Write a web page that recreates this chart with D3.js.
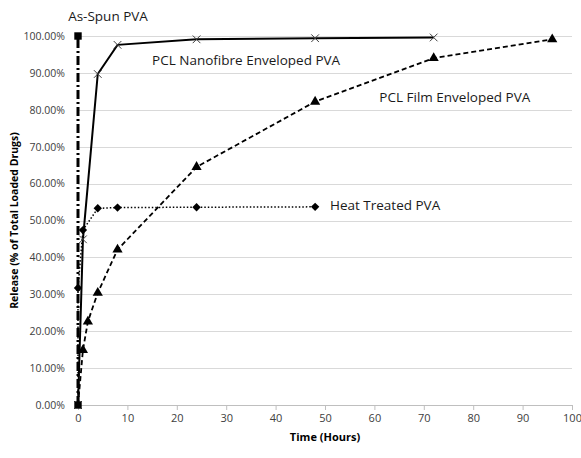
<!DOCTYPE html>
<html>
<head>
<meta charset="utf-8">
<script src="https://cdn.jsdelivr.net/npm/d3@7"></script>
<style>
  body { margin: 0; background: #fff; }
  svg text { font-family: "Open Sans", Lato, sans-serif; fill: #404040; }
</style>
</head>
<body>
<div id="chart-area"></div>
<script>
const xTicks = [0, 10, 20, 30, 40, 50, 60, 70, 80, 90, 100];
const yTicks = [0, 10, 20, 30, 40, 50, 60, 70, 80, 90, 100];

const asSpunTime = [0, 0];
const asSpunRelease = [0, 100];

const nanofibreTime = [0, 1, 4, 8, 24, 48, 72];
const nanofibreRelease = [0, 44.9, 89.7, 97.6, 99.1, 99.4, 99.6];

const filmTime = [0, 1, 2, 4, 8, 24, 48, 72, 96];
const filmRelease = [0, 14.9, 22.6, 30.4, 42.1, 64.5, 82.2, 94.0, 99.1];

const heatTime = [0, 0, 1, 4, 8, 24, 48];
const heatRelease = [0, 31.7, 47.4, 53.3, 53.5, 53.6, 53.7];

const seriesLabels = [
  { text: "As-Spun PVA", x: -2, y: 104 },
  { text: "PCL Nanofibre Enveloped PVA", x: 15, y: 92.2 },
  { text: "PCL Film Enveloped PVA", x: 61, y: 82.2 },
  { text: "Heat Treated PVA", x: 51, y: 52.8 }
];

const zip = (xs, ys) => xs.map((t, i) => ({ t, v: ys[i] }));

const chartSize = { width: 581, height: 458 };
const margin = { left: 78, right: 9, top: 36, bottom: 53 };
const width = chartSize.width - margin.left - margin.right;
const height = chartSize.height - margin.top - margin.bottom;

const x = d3.scaleLinear().domain([0, 100]).range([0, width]);
const y = d3.scaleLinear().domain([0, 100]).range([height, 0]);

const svg = d3
  .select("#chart-area")
  .append("svg")
  .attr("width", chartSize.width)
  .attr("height", chartSize.height);

const g = svg
  .append("g")
  .attr("transform", `translate(${margin.left},${margin.top})`);

// gridlines
g.selectAll(".grid")
  .data(yTicks.filter(d => d > 0))
  .enter()
  .append("line")
  .attr("x1", 0)
  .attr("x2", width)
  .attr("y1", d => Math.round(y(d)) + 0.5)
  .attr("y2", d => Math.round(y(d)) + 0.5)
  .attr("stroke", "#d9d9d9")
  .attr("stroke-width", 1);

const yAxis = d3
  .axisLeft(y)
  .tickValues(yTicks)
  .tickSize(0)
  .tickPadding(13)
  .tickFormat(d => d.toFixed(2) + "%");

const xAxis = d3
  .axisBottom(x)
  .tickValues(xTicks)
  .tickSize(5)
  .tickSizeOuter(0)
  .tickPadding(4);

const ya = g.append("g").call(yAxis);
ya.select(".domain").remove();
ya.selectAll("text").style("font-size", "10.5px");

const xa = g
  .append("g")
  .attr("transform", `translate(0,${height})`)
  .call(xAxis);
xa.selectAll("line, path").attr("stroke", "#bfbfbf");
xa.selectAll("text").style("font-size", "11px");

g.append("text")
  .attr("x", width / 2)
  .attr("y", height + 36)
  .attr("text-anchor", "middle")
  .style("font-size", "11px")
  .style("font-weight", "bold")
  .style("fill", "#000")
  .text("Time (Hours)");

g.append("text")
  .attr("transform", "rotate(-90)")
  .attr("x", -height / 2)
  .attr("y", -60)
  .attr("text-anchor", "middle")
  .style("font-size", "10.5px")
  .style("font-weight", "bold")
  .style("fill", "#000")
  .text("Release (% of Total Loaded Drugs)");

const line = d3
  .line()
  .x(d => x(d.t))
  .y(d => y(d.v));

const series = [
  { data: zip(filmTime, filmRelease), dash: "5,3", w: 1.8, marker: "triangle" },
  { data: zip(heatTime, heatRelease), dash: "1.5,2", w: 1.5, marker: "diamond" },
  { data: zip(nanofibreTime, nanofibreRelease), dash: null, w: 2, marker: "x" },
  { data: zip(asSpunTime, asSpunRelease), dash: "9,3,2,3", w: 3, marker: "square" }
];

series.forEach(s => {
  g.append("path")
    .datum(s.data)
    .attr("d", line)
    .attr("fill", "none")
    .attr("stroke", "#000")
    .attr("stroke-width", s.w)
    .attr("stroke-dasharray", s.dash);

  const pts = s.marker === "diamond" || s.marker === "triangle"
    ? s.data.filter(d => d.v > 0)
    : s.data;
  const m = g.selectAll(null).data(pts).enter();

  if (s.marker === "x") {
    m.append("path")
      .attr("d", d3.symbol(d3.symbolX, 40)())
      .attr("transform", d => `translate(${x(d.t)},${y(d.v)})`)
      .attr("fill", "none")
      .attr("stroke", "#404040")
      .attr("stroke-width", 1);
  } else {
    const type =
      s.marker === "triangle" ? d3.symbolTriangle :
      s.marker === "diamond" ? d3.symbolDiamond2 : d3.symbolSquare;
    const size = s.marker === "square" ? 55 : 45;
    m.append("path")
      .attr("d", d3.symbol(type, size)())
      .attr("transform", d => `translate(${x(d.t)},${y(d.v)})`)
      .attr("fill", "#000");
  }
});

g.selectAll(".series-label")
  .data(seriesLabels)
  .enter()
  .append("text")
  .attr("x", d => x(d.x))
  .attr("y", d => y(d.y))
  .style("font-size", "13.5px")
  .style("fill", "#1a1a1a")
  .text(d => d.text);
</script>
</body>
</html>
